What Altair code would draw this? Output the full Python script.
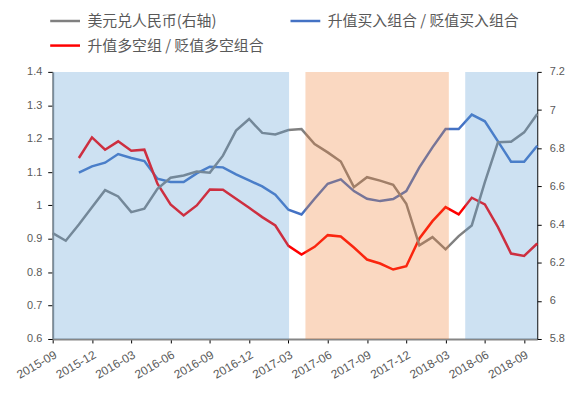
import altair as alt
import pandas as pd

# ---------------- data ----------------
months = [
    "2015-09", "2015-10", "2015-11", "2015-12", "2016-01", "2016-02", "2016-03", "2016-04",
    "2016-05", "2016-06", "2016-07", "2016-08", "2016-09", "2016-10", "2016-11", "2016-12",
    "2017-01", "2017-02", "2017-03", "2017-04", "2017-05", "2017-06", "2017-07", "2017-08",
    "2017-09", "2017-10", "2017-11", "2017-12", "2018-01", "2018-02", "2018-03", "2018-04",
    "2018-05", "2018-06", "2018-07", "2018-08", "2018-09", "2018-10",
]
tick_labels = ["2015-09", "2015-12", "2016-03", "2016-06", "2016-09", "2016-12", "2017-03",
               "2017-06", "2017-09", "2017-12", "2018-03", "2018-06", "2018-09"]
left_ticks = [0.6, 0.7, 0.8, 0.9, 1.0, 1.1, 1.2, 1.3, 1.4]
right_ticks = [5.8, 6.0, 6.2, 6.4, 6.6, 6.8, 7.0, 7.2]

# USD/CNY (right axis), from 2015-09
usd_cny = [6.355, 6.315, 6.400, 6.490, 6.580, 6.547, 6.465, 6.483, 6.587, 6.645, 6.657, 6.678,
           6.672, 6.761, 6.892, 6.953, 6.880, 6.872, 6.895, 6.900, 6.822, 6.778, 6.730, 6.596,
           6.648, 6.630, 6.608, 6.509, 6.291, 6.334, 6.270, 6.339, 6.395, 6.622, 6.831, 6.834,
           6.883, 6.979]
# portfolios (left axis), from 2015-11
series_start = "2015-11"
buy_combo = [1.098, 1.117, 1.128, 1.154, 1.142, 1.133, 1.080, 1.070, 1.070, 1.096, 1.116,
             1.114, 1.093, 1.075, 1.057, 1.032, 0.987, 0.973, 1.020, 1.065, 1.078, 1.043,
             1.020, 1.013, 1.019, 1.043, 1.114, 1.174, 1.229, 1.229, 1.272, 1.252, 1.192,
             1.131, 1.131, 1.179]
long_short = [1.142, 1.204, 1.167, 1.192, 1.164, 1.167, 1.065, 1.003, 0.970, 1.000, 1.048,
              1.047, 1.020, 0.993, 0.965, 0.940, 0.879, 0.853, 0.876, 0.911, 0.907, 0.874,
              0.838, 0.826, 0.808, 0.818, 0.901, 0.953, 0.995, 0.973, 1.023, 1.003, 0.935,
              0.856, 0.849, 0.886]

# shaded periods (in month positions)
blue_start = [0.0, 31.5]
blue_end = [18.05, 37.0]
orange_start = [19.3]
orange_end = [30.25]

S_FX = "美元兑人民币(右轴)"
S_BUY = "升值买入组合 / 贬值买入组合"
S_LS = "升值多空组 / 贬值多空组合"

# ---------------- frames ----------------
fx_df = pd.DataFrame({"t": list(range(len(months))), "v": usd_cny, "s": S_FX})
off = months.index(series_start)
left_df = pd.concat([
    pd.DataFrame({"t": list(range(off, off + len(buy_combo))), "v": buy_combo, "s": S_BUY}),
    pd.DataFrame({"t": list(range(off, off + len(long_short))), "v": long_short, "s": S_LS}),
])
blue_df = pd.DataFrame({"a": blue_start, "b": blue_end})
orange_df = pd.DataFrame({"a": orange_start, "b": orange_end})

# ---------------- encodings ----------------
arr = [""] * len(months)
for lab in tick_labels:
    arr[months.index(lab)] = lab
label_expr = "[" + ",".join("'%s'" % a for a in arr) + "][datum.value]"

x_scale = alt.Scale(domain=[0, len(months) - 1], nice=False, zero=False)
x_axis = alt.Axis(
    values=[months.index(l) for l in tick_labels], labelExpr=label_expr, title=None,
    labelAngle=330, labelAlign="right", labelBaseline="top", labelPadding=6,
    labelOverlap=False, labelBound=False, labelFlush=False,
    tickSize=4, tickColor="#000000", domainColor="#868686", domainWidth=2,
    labelFont="Liberation Sans", labelFontSize=12, labelColor="#595959",
)

color = alt.Color(
    "s:N",
    scale=alt.Scale(domain=[S_FX, S_LS, S_BUY], range=["#808080", "#FF0000", "#4472C4"]),
    legend=alt.Legend(
        orient="none", legendX=-4, legendY=-68, columns=2, title=None,
        symbolType="stroke", symbolSize=900, symbolStrokeWidth=2.5,
        labelFont="Noto Sans CJK SC", labelFontSize=15, labelColor="#595959",
        labelOffset=6, labelLimit=400, columnPadding=21, rowPadding=-1, padding=0,
    ),
)

y_axis_common = dict(title=None, grid=False, labelOverlap=False, labelBound=False,
                     labelFlush=False, labelFont="Liberation Sans", labelFontSize=11,
                     labelColor="#595959", format=".1~f")

left_axis = alt.Axis(orient="left", values=left_ticks, tickSize=5, tickColor="#000000",
                     domainColor="#868686", domainWidth=2, labelPadding=6, **y_axis_common)
right_axis = alt.Axis(orient="right", values=right_ticks, tickSize=4, tickColor="#000000",
                      domainColor="#000000", domainWidth=1, labelPadding=8, **y_axis_common)

left = alt.Chart(left_df).mark_line(strokeWidth=2.5).encode(
    x=alt.X("t:Q", scale=x_scale, axis=x_axis),
    y=alt.Y("v:Q", scale=alt.Scale(domain=[left_ticks[0], left_ticks[-1]], nice=False, zero=False),
            axis=left_axis),
    color=color,
)

right_y_scale = alt.Scale(domain=[right_ticks[0], right_ticks[-1]], nice=False, zero=False)
gray = alt.Chart(fx_df).mark_line(strokeWidth=2.5).encode(
    x=alt.X("t:Q", scale=x_scale, axis=x_axis),
    y=alt.Y("v:Q", scale=right_y_scale, axis=right_axis),
    color=color,
)

def shade(df, col):
    return alt.Chart(df).mark_rect(color=col, opacity=0.3).encode(
        x=alt.X("a:Q", scale=x_scale, axis=x_axis),
        x2="b:Q",
        y=alt.Y(datum=right_ticks[-1], type="quantitative", scale=right_y_scale, axis=right_axis),
        y2=alt.Y2(datum=right_ticks[0]),
    )

right = alt.layer(gray, shade(blue_df, "#5B9BD5"), shade(orange_df, "#ED7D31"))

chart = alt.layer(left, right).resolve_scale(y="independent").properties(
    width=488, height=269,
    padding={"left": 45, "top": 63, "right": 35, "bottom": 46},
    autosize=alt.AutoSizeParams(type="none"),
).configure_view(stroke=None).configure_axis(grid=False)

chart.save("out.html", embed_options={"renderer": "svg", "actions": False})
